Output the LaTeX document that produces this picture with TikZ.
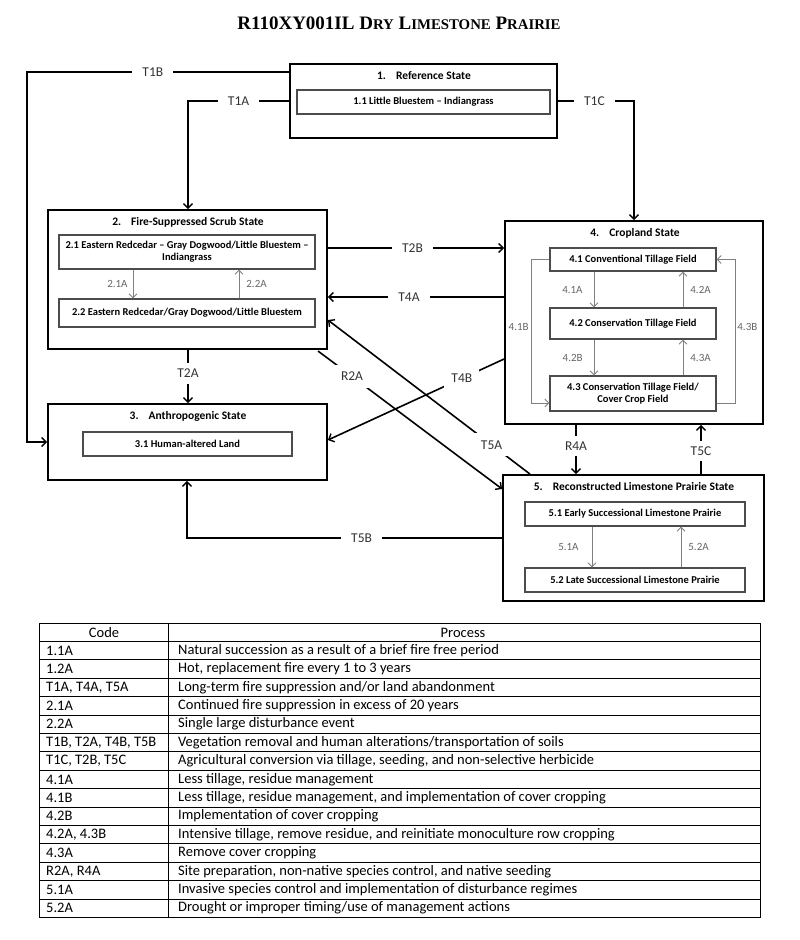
\documentclass[tikz,border=0pt]{standalone}
\usepackage{fontspec}
\setmainfont{Carlito}
\newfontfamily\titleserif{Liberation Serif}
\usetikzlibrary{arrows.meta,calc}
\newcommand{\smc}[1]{{\fontsize{14.8}{16}\selectfont #1}}
\begin{document}
\begin{tikzpicture}[x=1pt,y=-1pt,
  statebox/.style={draw=black,line width=1.8pt,inner sep=0pt},
  innerbox/.style={draw=black!70,line width=1.3pt,inner sep=1pt,align=center,
    font=\bfseries\fontsize{10.5}{12}\selectfont},
  stitle/.style={inner sep=0pt,font=\bfseries\fontsize{11.5}{13}\selectfont},
  trans/.style={draw=black,line width=1.6pt,-{Straight Barb[length=4.5pt,width=9pt,line width=1.4pt]}},
  lab/.style={fill=white,text=black!80,inner xsep=10pt,inner ysep=2pt,font=\fontsize{13.5}{15}\selectfont},
  vlab/.style={fill=white,text=black!80,inner xsep=2pt,inner ysep=6pt,font=\fontsize{13.5}{15}\selectfont},
  dlab/.style={fill=white,text=black!80,inner sep=7pt,font=\fontsize{13.5}{15}\selectfont},
  inarr/.style={draw=black!50,line width=0.8pt,-{Straight Barb[length=4pt,width=8pt,line width=0.8pt]}},
  ilab/.style={text=black!60,inner sep=1pt,font=\fontsize{11}{12}\selectfont},
  tcell/.style={inner sep=0pt,font=\fontsize{14.5}{16}\selectfont},
  tline/.style={draw=black,line width=1pt}
]
\useasboundingbox[fill=white] (0,0) rectangle (800,940);

% title
\node[inner sep=0pt,font=\titleserif\bfseries\fontsize{19}{22}\selectfont] (title) at (399,23)
  {R110XY001IL D\smc{RY} L\smc{IMESTONE} P\smc{RAIRIE}};

% state 1
\node[statebox,minimum width=267pt,minimum height=74pt] (s1) at (423.5,101) {};
\node[stitle] (t1) at (424,76) {1.\hspace{10pt}Reference State};
\node[innerbox,minimum width=253pt,minimum height=24pt] (s11) at (423.5,102) {1.1 Little Bluestem – Indiangrass};

% state 2
\node[statebox,minimum width=279pt,minimum height=139pt] (s2) at (187.5,279.5) {};
\node[stitle] (t2) at (188,222) {2.\hspace{10pt}Fire-Suppressed Scrub State};
\node[innerbox,minimum width=256pt,minimum height=34pt] (s21) at (187,252) {2.1 Eastern Redcedar – Gray Dogwood/Little Bluestem –\\Indiangrass};
\node[innerbox,minimum width=256pt,minimum height=28pt] (s22) at (187,313) {2.2 Eastern Redcedar/Gray Dogwood/Little Bluestem};

% state 3
\node[statebox,minimum width=279pt,minimum height=76pt] (s3) at (187.5,442) {};
\node[stitle] (t3) at (188,416) {3.\hspace{10pt}Anthropogenic State};
\node[innerbox,minimum width=209pt,minimum height=24pt] (s31) at (187.5,444) {3.1 Human-altered Land};

% state 4
\node[statebox,minimum width=258pt,minimum height=203pt] (s4) at (634,322.5) {};
\node[stitle] (t4) at (635,233) {4.\hspace{10pt}Cropland State};
\node[innerbox,minimum width=166pt,minimum height=23pt] (s41) at (633,259.5) {4.1 Conventional Tillage Field};
\node[innerbox,minimum width=166pt,minimum height=31pt] (s42) at (633,323.5) {4.2 Conservation Tillage Field};
\node[innerbox,minimum width=166pt,minimum height=35pt] (s43) at (633,393.5) {4.3 Conservation Tillage Field/\\Cover Crop Field};

% state 5
\node[statebox,minimum width=261pt,minimum height=126pt] (s5) at (633.5,538) {};
\node[stitle] (t5) at (634,487) {5.\hspace{10pt}Reconstructed Limestone Prairie State};
\node[innerbox,minimum width=220pt,minimum height=24pt] (s51) at (635,514) {5.1 Early Successional Limestone Prairie};
\node[innerbox,minimum width=220pt,minimum height=24pt] (s52) at (635,580) {5.2 Late Successional Limestone Prairie};

% bend coordinates
\coordinate (k1) at (27,72);
\coordinate (k2) at (27,442);
\coordinate (k3) at (188,101);
\coordinate (k4) at (634,101);
\coordinate (k5) at (0,248);
\coordinate (k6) at (0,297);
\coordinate (k7) at (318,351);
\coordinate (k8) at (0,489);
\coordinate (k9) at (530,0);
\coordinate (k10) at (0,320);
\coordinate (k11) at (0,359);
\coordinate (k12) at (0,440);
\coordinate (k13) at (576,0);
\coordinate (k14) at (701,0);
\coordinate (k15) at (187,538);

% transitions
\draw[trans] (s1.west |- k1) -- node[lab,pos=0.52]{T1B} (k1) -- (k2) -- (s3.west |- k2);
\draw[trans] (s1.west |- k3) -- node[lab,pos=0.5]{T1A} (k3) -- (k3 |- s2.north);
\draw[trans] (s1.east |- k4) -- node[lab,pos=0.48]{T1C} (k4) -- (k4 |- s4.north);
\draw[trans] (s2.east |- k5) -- node[lab,pos=0.48]{T2B} (s4.west |- k5);
\draw[trans] (s4.west |- k6) -- node[lab,pos=0.54]{T4A} (s2.east |- k6);
\draw[trans] (s2.south -| k3) -- node[vlab,pos=0.44]{T2A} (s3.north -| k3);
\draw[trans] (k7) -- node[dlab,pos=0.185]{R2A} (s5.west |- k8);
\draw[trans] (s5.north -| k9) -- node[dlab,pos=0.19]{T5A} (s2.east |- k10);
\draw[trans] (s4.west |- k11) -- node[dlab,pos=0.24]{T4B} (s3.east |- k12);
\draw[trans] (s4.south -| k13) -- node[vlab,pos=0.43]{R4A} (s5.north -| k13);
\draw[trans] (s5.north -| k14) -- node[vlab,pos=0.47]{T5C} (s4.south -| k14);
\draw[trans] (s5.west |- k15) -- node[lab,pos=0.446]{T5B} (k15) -- (k15 |- s3.south);

% inner transitions state 2
\draw[inarr] ([xshift=-54pt]s21.south) -- node[ilab,left=4pt]{2.1A} ([xshift=-54pt]s22.north);
\draw[inarr] ([xshift=52pt]s22.north) -- node[ilab,right=6pt]{2.2A} ([xshift=52pt]s21.south);

% inner transitions state 4
\draw[inarr] ([xshift=-39pt]s41.south) -- node[ilab,left=10pt]{4.1A} ([xshift=-39pt]s42.north);
\draw[inarr] ([xshift=50pt]s42.north) -- node[ilab,right=6pt]{4.2A} ([xshift=50pt]s41.south);
\draw[inarr] ([xshift=-39pt]s42.south) -- node[ilab,left=10pt]{4.2B} ([xshift=-39pt]s43.north);
\draw[inarr] ([xshift=50pt]s43.north) -- node[ilab,right=6pt]{4.3A} ([xshift=50pt]s42.south);
\coordinate (k16) at (531,403);
\coordinate (k17) at (735,403);
\draw[inarr] (s41.west) -- (s41.west -| k16) -- node[ilab,left=1pt,pos=0.47]{4.1B} (k16) -- (s43.west |- k16);
\draw[inarr] (s43.east |- k17) -- (k17) -- node[ilab,right=1pt,pos=0.53]{4.3B} (k17 |- s41.east) -- (s41.east);

% inner transitions state 5
\draw[inarr] ([xshift=-43pt]s51.south) -- node[ilab,left=12pt]{5.1A} ([xshift=-43pt]s52.north);
\draw[inarr] ([xshift=46pt]s52.north) -- node[ilab,right=6pt]{5.2A} ([xshift=46pt]s51.south);

% table
\node[tcell] (hcode) at (104,632.7) {Code};
\node[tcell] (hproc) at (463,632.7) {Process};
\foreach \c/\p [count=\i] in {
  {1.1A}/{Natural succession as a result of a brief fire free period},
  {1.2A}/{Hot, replacement fire every 1 to 3 years},
  {T1A, T4A, T5A}/{Long-term fire suppression and/or land abandonment},
  {2.1A}/{Continued fire suppression in excess of 20 years},
  {2.2A}/{Single large disturbance event},
  {T1B, T2A, T4B, T5B}/{Vegetation removal and human alterations/transportation of soils},
  {T1C, T2B, T5C}/{Agricultural conversion via tillage, seeding, and non-selective herbicide},
  {4.1A}/{Less tillage, residue management},
  {4.1B}/{Less tillage, residue management, and implementation of cover cropping},
  {4.2B}/{Implementation of cover cropping},
  {4.2A, 4.3B}/{Intensive tillage, remove residue, and reinitiate monoculture row cropping},
  {4.3A}/{Remove cover cropping},
  {R2A, R4A}/{Site preparation, non-native species control, and native seeding},
  {5.1A}/{Invasive species control and implementation of disturbance regimes},
  {5.2A}/{Drought or improper timing/use of management actions}} {
  \pgfmathsetmacro{\yy}{641.4+(\i-0.5)*18.4}
  \node[tcell,anchor=west] (code\i) at (46,\yy) {\c};
  \node[tcell,anchor=west] (proc\i) at (178,\yy) {\p};
}
\foreach \i in {1,...,15} {
  \pgfmathsetmacro{\yy}{623+\i*18.4}
  \draw[tline] (39,\yy) -- (760,\yy);
}
\draw[tline] (39,623) rectangle (760,917.4);
\draw[tline] (168,623) -- (168,917.4);
\end{tikzpicture}
\end{document}
